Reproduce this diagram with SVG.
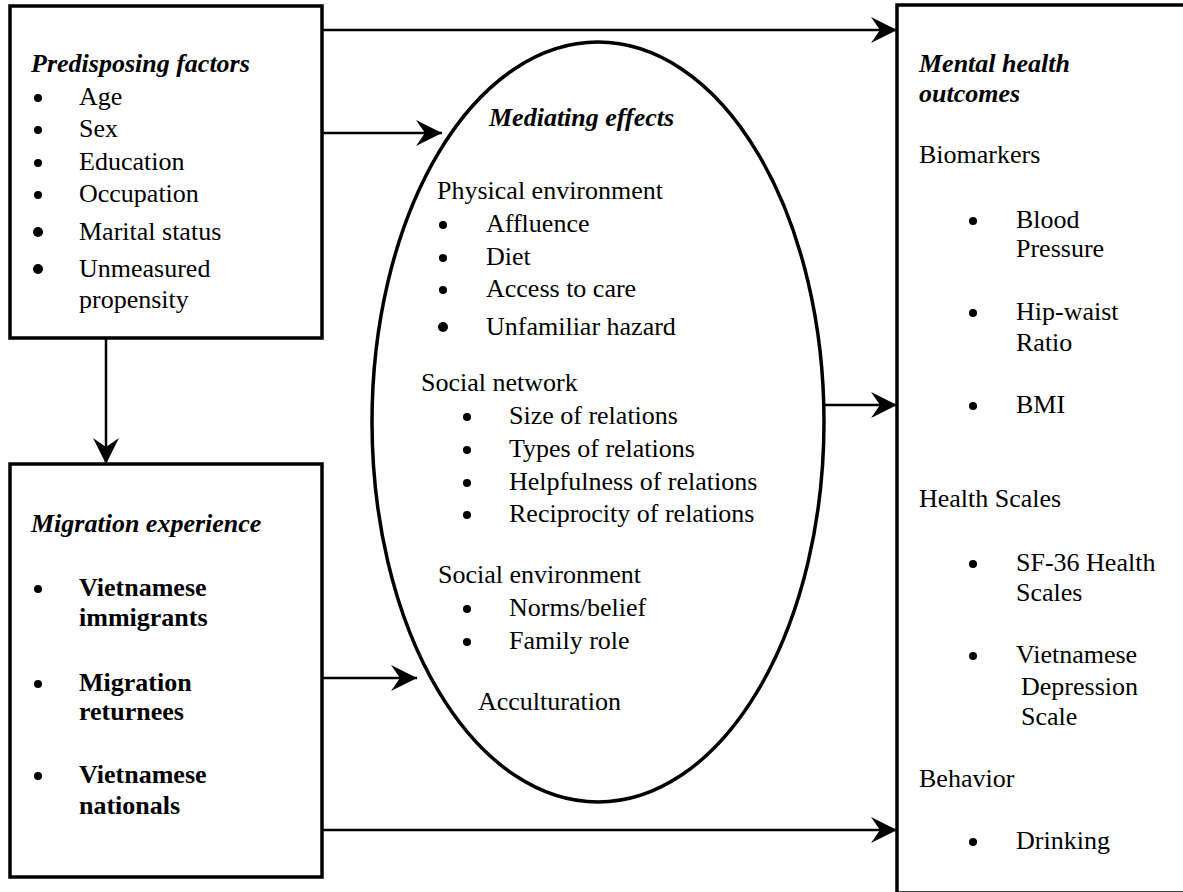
<svg xmlns="http://www.w3.org/2000/svg" width="1183" height="892" viewBox="0 0 1183 892">
<style>
text{font-family:"Liberation Serif","Times New Roman",serif;font-size:26px;fill:#000}
.t{font-weight:bold;font-style:italic}
.b{font-weight:bold}
.box{fill:none;stroke:#000;stroke-width:3.5}
.ln{fill:none;stroke:#000;stroke-width:2.5}
circle{fill:#000}
</style>
<defs>
<marker id="ah" markerUnits="userSpaceOnUse" markerWidth="28" markerHeight="28" refX="26" refY="13" orient="auto" viewBox="0 0 28 28">
<path d="M0,0 L26,13 L0,26 L9,13 Z" fill="#000"/>
</marker>
</defs>
<rect width="1183" height="892" fill="#fff"/>
<g id="connectors">
<line class="ln" x1="322" y1="30" x2="897" y2="30" marker-end="url(#ah)"/>
<line class="ln" x1="322" y1="133" x2="442" y2="133" marker-end="url(#ah)"/>
<line class="ln" x1="106" y1="338" x2="106" y2="464" marker-end="url(#ah)"/>
<line class="ln" x1="322" y1="678" x2="417" y2="678" marker-end="url(#ah)"/>
<line class="ln" x1="825" y1="405" x2="897" y2="405" marker-end="url(#ah)"/>
<line class="ln" x1="322" y1="830" x2="897" y2="830" marker-end="url(#ah)"/>
</g>
<g id="predisposing">
<rect class="box" x="10" y="6" width="312" height="332"/>
<text class="t" x="31" y="72">Predisposing factors</text>
<circle cx="38" cy="98" r="4"/><text x="79" y="105">Age</text>
<circle cx="38" cy="130" r="4"/><text x="79" y="137">Sex</text>
<circle cx="38" cy="163" r="4"/><text x="79" y="170">Education</text>
<circle cx="38" cy="195" r="4"/><text x="79" y="202">Occupation</text>
<circle cx="38" cy="232" r="5"/><text x="79" y="240">Marital status</text>
<circle cx="38" cy="269" r="5"/><text x="79" y="277">Unmeasured</text>
<text x="79" y="308">propensity</text>
</g>
<g id="migration">
<rect class="box" x="10" y="464" width="312" height="413"/>
<text class="t" x="31" y="532">Migration experience</text>
<circle cx="38" cy="589" r="4"/><text class="b" x="79" y="596">Vietnamese</text>
<text class="b" x="79" y="626">immigrants</text>
<circle cx="38" cy="684" r="4"/><text class="b" x="79" y="691">Migration</text>
<text class="b" x="79" y="720">returnees</text>
<circle cx="38" cy="776" r="4"/><text class="b" x="79" y="783">Vietnamese</text>
<text class="b" x="79" y="814">nationals</text>
</g>
<g id="mediating">
<ellipse class="box" cx="598" cy="422" rx="226" ry="380"/>
<text class="t" x="489" y="126">Mediating effects</text>
<text x="437" y="199">Physical environment</text>
<circle cx="443" cy="225" r="4"/><text x="486" y="232">Affluence</text>
<circle cx="443" cy="258" r="4"/><text x="486" y="265">Diet</text>
<circle cx="443" cy="290" r="4"/><text x="486" y="297">Access to care</text>
<circle cx="443" cy="327" r="5"/><text x="486" y="335">Unfamiliar hazard</text>
<text x="421" y="391">Social network</text>
<circle cx="467" cy="417" r="4"/><text x="509" y="424">Size of relations</text>
<circle cx="467" cy="450" r="4"/><text x="509" y="457">Types of relations</text>
<circle cx="467" cy="483" r="4"/><text x="509" y="490">Helpfulness of relations</text>
<circle cx="467" cy="515" r="4"/><text x="509" y="522">Reciprocity of relations</text>
<text x="438" y="583">Social environment</text>
<circle cx="467" cy="609" r="4"/><text x="509" y="616">Norms/belief</text>
<circle cx="467" cy="642" r="4"/><text x="509" y="649">Family role</text>
<text x="478" y="710">Acculturation</text>
</g>
<g id="outcomes">
<rect class="box" x="897" y="5" width="310" height="888"/>
<text class="t" x="919" y="72">Mental health</text>
<text class="t" x="919" y="102">outcomes</text>
<text x="919" y="163">Biomarkers</text>
<circle cx="973" cy="221" r="4"/><text x="1016" y="228">Blood</text>
<text x="1016" y="257">Pressure</text>
<circle cx="973" cy="313" r="4"/><text x="1016" y="320">Hip-waist</text>
<text x="1016" y="351">Ratio</text>
<circle cx="973" cy="406" r="4"/><text x="1016" y="413">BMI</text>
<text x="919" y="507">Health Scales</text>
<circle cx="973" cy="564" r="4"/><text x="1016" y="571">SF-36 Health</text>
<text x="1016" y="601">Scales</text>
<circle cx="973" cy="656" r="4"/><text x="1016" y="663">Vietnamese</text>
<text x="1021" y="695">Depression</text>
<text x="1021" y="725">Scale</text>
<text x="919" y="787">Behavior</text>
<circle cx="973" cy="842" r="4"/><text x="1016" y="849">Drinking</text>
</g>
</svg>
